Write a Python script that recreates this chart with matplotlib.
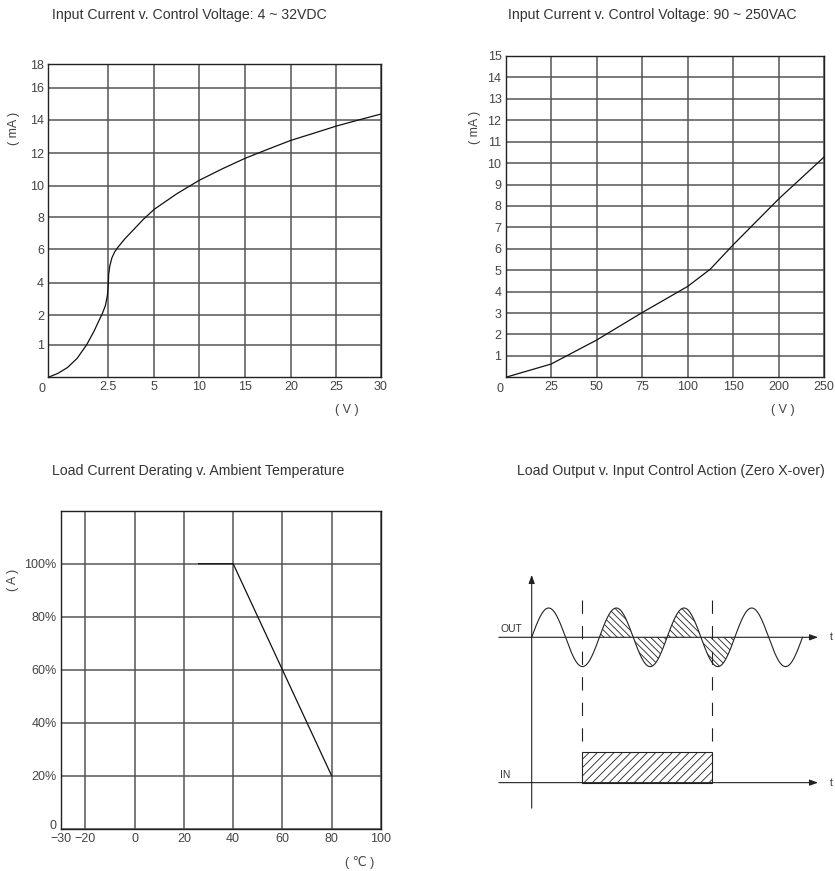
import numpy as np
import matplotlib.pyplot as plt
from matplotlib.patches import Rectangle

plt.rcParams["font.family"] = ["Liberation Sans", "DejaVu Sans"]
plt.rcParams["hatch.linewidth"] = 0.6

W, H = 835, 871
GRID = "#555555"
TXT = "#333333"
TICK = "#444444"
FS = 9

# --- data -------------------------------------------------------------------
# chart 1: input current vs control voltage (DC)
dc_volt = [0, 0.4, 0.8, 1.2, 1.6, 1.9, 2.1, 2.25, 2.38, 2.46, 2.5, 2.52, 2.58,
           2.7, 2.85, 3.04, 3.4, 3.86, 4.4, 5, 6.5, 7.5, 10, 12.5, 15, 17.5,
           20, 22.5, 25, 27.5, 30]
dc_ma = [0, 0.12, 0.3, 0.58, 1.0, 1.45, 1.8, 2.1, 2.6, 3.2, 3.9, 4.5, 5.0,
         5.5, 5.85, 6.15, 6.65, 7.2, 7.85, 8.5, 9.1, 9.5, 10.35, 11.05, 11.7,
         12.25, 12.78, 13.2, 13.63, 14.0, 14.37]
dc_xticks = [0, 2.5, 5, 10, 15, 20, 25, 30]
dc_yticks = [0, 1, 2, 4, 6, 8, 10, 12, 14, 16, 18]

# chart 2: input current vs control voltage (AC)
ac_volt = [0, 25, 50, 75, 100, 125, 150, 200, 250]
ac_ma = [0, 0.62, 1.74, 3.02, 4.24, 5.05, 6.18, 8.32, 10.28]
ac_xticks = [0, 25, 50, 75, 100, 150, 200, 250]
ac_yticks = list(range(0, 16))

# chart 3: load current derating
temp_c = [26, 40, 80]
load_pct = [100, 100, 20]
temp_ticks = [-30, -20, 0, 20, 40, 60, 80, 100]
pct_ticks = [0, 20, 40, 60, 80, 100]

# chart 4: zero cross switching (in half cycles of the mains)
half_cycles = 8
in_on, in_off = 1.5, 5.33
conduct_on, conduct_off = 2, 6

# non-uniform axis breakpoints (pixel spacing on the printed sheet)
dc_xscale = [0, 60, 106, 151, 197, 242.7, 287.7, 332.7]
dc_yscale = [0, 32.6, 62, 94.6, 128, 160.3, 191.3, 224, 257.3, 289.6, 313]
ac_xscale = [0, 1, 2, 3, 4, 5, 6, 7]


def px_axes(fig, left, top, right, bottom):
    return fig.add_axes([left / W, 1 - bottom / H, (right - left) / W,
                         (bottom - top) / H])


def piecewise(vals, pos):
    vals, pos = np.asarray(vals, float), np.asarray(pos, float)
    fwd = lambda v: np.interp(v, vals, pos)
    inv = lambda p: np.interp(p, pos, vals)
    return fwd, inv


def style(ax):
    ax.tick_params(length=0, labelsize=FS, colors=TICK, pad=3)
    for s in ax.spines.values():
        s.set_color("#222222")
        s.set_linewidth(1.0)
    ax.grid(True, color=GRID, lw=1.1)
    ax.set_axisbelow(True)


def fmt(v):
    return f"{v:g}".replace("-", "\u2212")


def corner_zero(ax):
    ax.annotate("0", xy=(0, 0), xycoords="data", xytext=(-6, -6),
                textcoords="offset pixels", ha="center", va="top",
                fontsize=FS, color=TICK)


fig = plt.figure(figsize=(W / 100, H / 100), dpi=100)

# ---- chart 1 ---------------------------------------------------------------
ax1 = px_axes(fig, 48.3, 64.3, 381, 377.3)
ax1.set_xscale("function", functions=piecewise(dc_xticks, dc_xscale))
ax1.set_yscale("function", functions=piecewise(dc_yticks, dc_yscale))
ax1.set_xlim(0, 30)
ax1.set_ylim(0, 18)
ax1.set_xticks(dc_xticks[1:], [fmt(v) for v in dc_xticks[1:]])
ax1.set_yticks(dc_yticks[1:], [fmt(v) for v in dc_yticks[1:]])
ax1.yaxis.set_minor_locator(plt.NullLocator())
ax1.xaxis.set_minor_locator(plt.NullLocator())
style(ax1)
ax1.plot(dc_volt, dc_ma, color="#111111", lw=0.9)
corner_zero(ax1)

# ---- chart 2 ---------------------------------------------------------------
ax2 = px_axes(fig, 505.7, 56, 824, 377.3)
ax2.set_xscale("function", functions=piecewise(ac_xticks, ac_xscale))
ax2.set_xlim(0, 250)
ax2.set_ylim(0, 15)
ax2.set_xticks(ac_xticks[1:], [fmt(v) for v in ac_xticks[1:]])
ax2.set_yticks(ac_yticks[1:], [fmt(v) for v in ac_yticks[1:]])
ax2.xaxis.set_minor_locator(plt.NullLocator())
style(ax2)
ax2.plot(ac_volt, ac_ma, color="#111111", lw=0.9)
corner_zero(ax2)

# ---- chart 3 ---------------------------------------------------------------
ax3 = px_axes(fig, 60.7, 510.7, 381, 829)
ax3.set_xlim(-30, 100)
ax3.set_ylim(0, 120)
ax3.set_xticks(temp_ticks, [fmt(v) for v in temp_ticks])
ax3.set_yticks(pct_ticks, ["0"] + [f"{v}%" for v in pct_ticks[1:]])
style(ax3)
ax3.get_yticklabels()[0].set_va("baseline")
ax3.plot(temp_c, load_pct, color="#111111", lw=0.9)

# ---- chart 4 ---------------------------------------------------------------
ax4 = px_axes(fig, 480, 560, 835, 820)
ax4.set_xlim(-1.527, 8.96)
ax4.set_ylim(-6.235, 2.638)
ax4.axis("off")
lc = "#222222"
t = np.linspace(0, half_cycles, 800)
wave = np.sin(np.pi * t)
ax4.plot(t, wave, color=lc, lw=0.8)
on = (t >= conduct_on) & (t <= conduct_off)
ax4.fill_between(t, 0, wave, where=on & (wave >= 0), facecolor="none",
                 edgecolor=lc, hatch="\\\\\\\\\\", lw=0)
ax4.fill_between(t, 0, wave, where=on & (wave <= 0), facecolor="none",
                 edgecolor=lc, hatch="\\\\\\\\\\", lw=0)
arrow = dict(arrowstyle="-|>,head_length=0.5,head_width=0.18",
             color=lc, lw=0.8, shrinkA=0, shrinkB=0)
for yb in (0, -4.96):
    ax4.annotate("", xy=(8.46, yb), xytext=(-0.97, yb), arrowprops=arrow)
    ax4.text(8.85, yb, "t", ha="center", va="center", fontsize=7.5, color=TXT)
ax4.annotate("", xy=(0, 2.13), xytext=(0, -5.83), arrowprops=arrow)
ax4.add_patch(Rectangle((in_on, -4.96), in_off - in_on, 1.06, facecolor="none",
                        edgecolor=lc, lw=0.8, hatch="////"))
for xd in (in_on, in_off):
    ax4.plot([xd, xd], [1.27, -3.9], color=lc, lw=0.8, dashes=(12, 11))
ax4.text(-0.93, 0.27, "OUT", ha="left", va="center", fontsize=7.5, color=TXT)
ax4.text(-0.93, -4.7, "IN", ha="left", va="center", fontsize=7.5, color=TXT)

# ---- titles and units ------------------------------------------------------
tkw = dict(fontsize=10.2, color=TXT, va="center")
fig.text(51.7 / W, 1 - 15 / H, "Input Current v. Control Voltage: 4 ~ 32VDC",
         ha="left", **tkw)
fig.text(797 / W, 1 - 15 / H, "Input Current v. Control Voltage: 90 ~ 250VAC",
         ha="right", **tkw)
fig.text(51.7 / W, 1 - 470.7 / H, "Load Current Derating v. Ambient Temperature",
         ha="left", **tkw)
fig.text(825 / W, 1 - 470.7 / H,
         "Load Output v. Input Control Action (Zero X-over)", ha="right", **tkw)

ukw = dict(fontsize=FS, color=TICK, ha="center", va="center")
fig.text(14 / W, 1 - 128 / H, "( mA )", rotation=90, **ukw)
fig.text(475 / W, 1 - 127 / H, "( mA )", rotation=90, **ukw)
fig.text(13 / W, 1 - 580 / H, "( A )", rotation=90, **ukw)
fig.text(347 / W, 1 - 410 / H, "( V )", **ukw)
fig.text(783 / W, 1 - 410 / H, "( V )", **ukw)
fig.text(360 / W, 1 - 862 / H, "( \u2103 )", **ukw)

fig.savefig("out.png", dpi=100)
